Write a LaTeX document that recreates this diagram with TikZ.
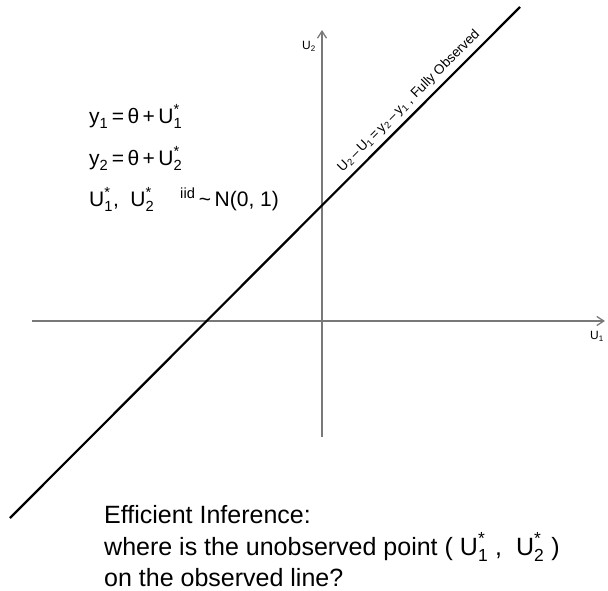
\documentclass[tikz,border=0pt]{standalone}
\usepackage{amsmath}
\usepackage{fontspec}
\setmainfont{Liberation Sans}
\usetikzlibrary{arrows.meta}
\newcommand{\tx}[1]{\text{#1}}
\newcommand{\Us}[1]{\tx{U}^{\tx{*}}_{\tx{#1}}}
\begin{document}
\begin{tikzpicture}[x=1pt,y=-1pt,
  axis/.style={draw=gray!95!black,line width=1.5pt,-{Straight Barb[length=7pt,width=9pt,line width=1.3pt]}},
  obsline/.style={draw=black,line width=2.2pt},
  formula/.style={anchor=base west,inner sep=0pt,font=\fontsize{21}{25}\selectfont},
  question/.style={anchor=base west,inner sep=0pt,font=\fontsize{25}{30}\selectfont},
  axlabel/.style={inner sep=0pt,font=\fontsize{12}{14}\selectfont}]
\useasboundingbox (0,0) rectangle (608,590);
% axes
\coordinate (xs) at (32,321);
\coordinate (xe) at (605,321);
\coordinate (ys) at (322,437);
\coordinate (ye) at (322,30);
\draw[axis] (xs) -- (xe);
\draw[axis] (ys) -- (ye);
\node[axlabel] (u1) at (597,336) {U\textsubscript{1}};
\node[axlabel] (u2) at (309,46) {U\textsubscript{2}};
% observed line
\coordinate (la) at (10,518);
\coordinate (lb) at (520,7);
\draw[obsline] (la) -- (lb);
\node[axlabel,rotate=45,font=\fontsize{13.5}{15}\selectfont] (lbl) at (409,101)
  {U\textsubscript{2}\,–\,U\textsubscript{1}\,=\,y\textsubscript{2}\,–\,y\textsubscript{1} , Fully Observed};
% formulas
\node[formula] (f1) at (89,123) {$\tx{y}_{\tx{1}}\,\tx{=}\,\tx{θ}\,\tx{+}\,\Us{1}$};
\node[formula] (f2) at (89,165) {$\tx{y}_{\tx{2}}\,\tx{=}\,\tx{θ}\,\tx{+}\,\Us{2}$};
\node[formula] (f3) at (89,206) {$\Us{1}\tx{,}\;\;\Us{2}\hspace{26pt}^{\tx{iid}}\tx{\,\textasciitilde\,N(0, 1)}$};
% question
\node[question] (q1) at (104,523) {Efficient Inference:};
\node[question] (q2) at (104,555) {where is the unobserved point ( $\Us{1}$ ,\ \ $\Us{2}$ )};
\node[question] (q3) at (104,586) {on the observed line?};
\end{tikzpicture}
\end{document}
